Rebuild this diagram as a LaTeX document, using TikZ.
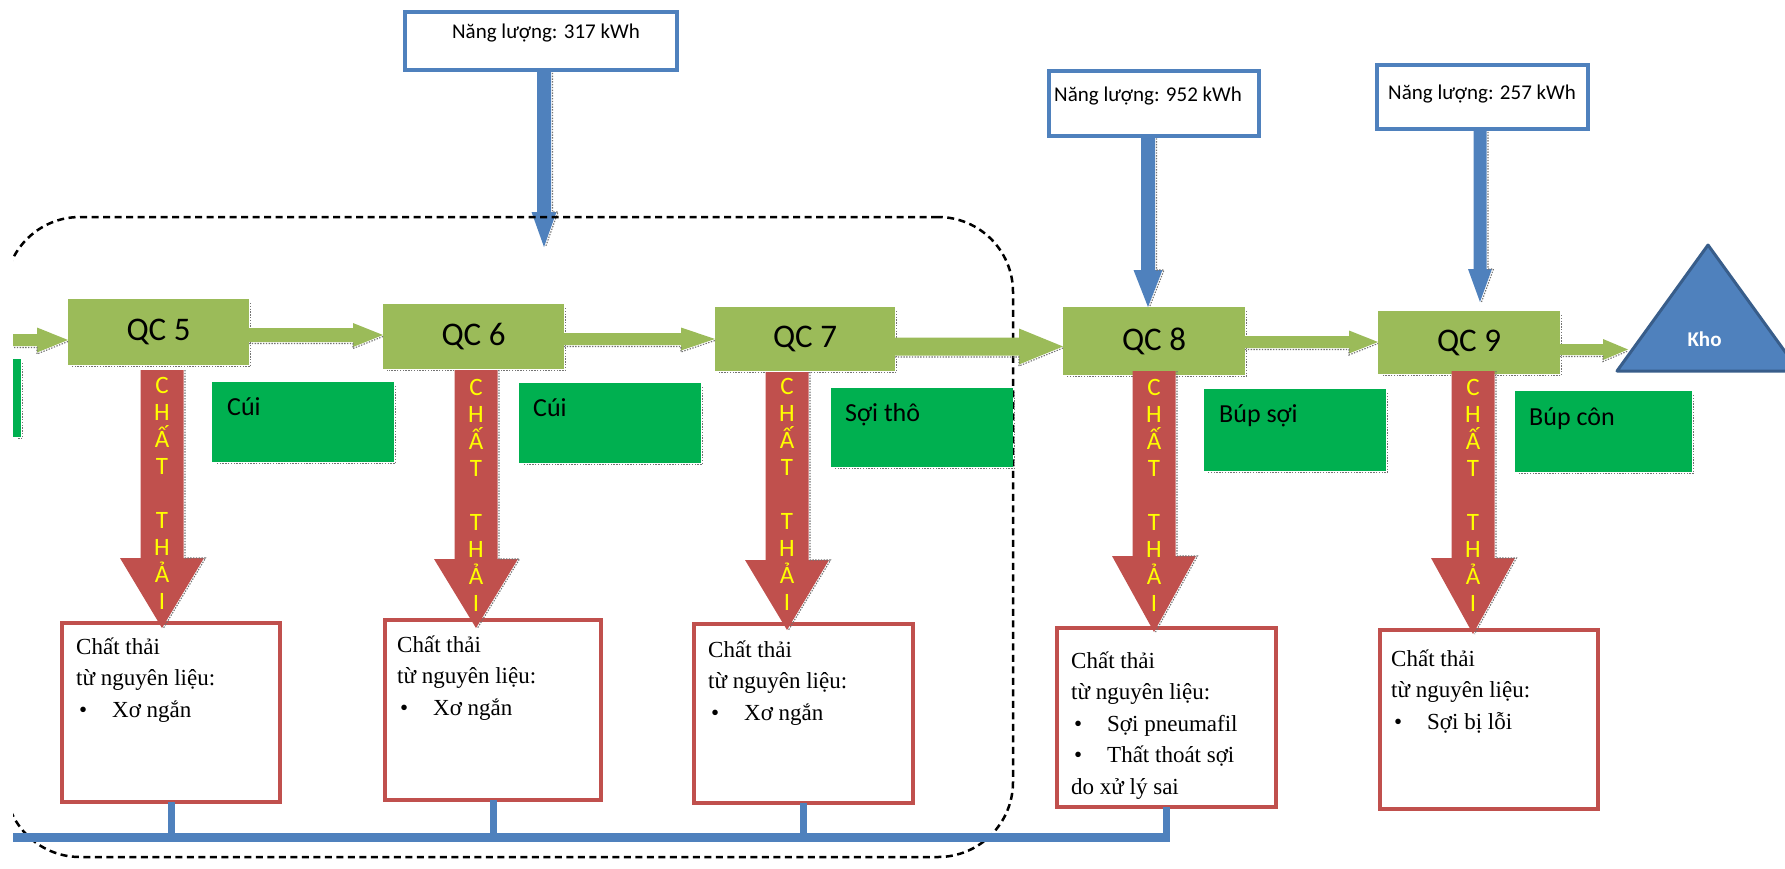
\documentclass[tikz,border=0pt]{standalone}
\usepackage{fontspec}
\setmainfont{Carlito}
\newfontfamily\tnr{Liberation Serif}
\usetikzlibrary{calc}
\definecolor{qcgreen}{HTML}{9BBB59}
\definecolor{pgreen}{HTML}{00B050}
\definecolor{wred}{HTML}{C0504D}
\definecolor{eblue}{HTML}{4F81BD}
\definecolor{dblue}{HTML}{385D8A}
\definecolor{tyellow}{HTML}{FFFF00}
% horizontal block arrow: style, start, end, shaft half, head half, head length
\newcommand\hblock[6]{%
 \fill[#1] let \p1=(#2), \p2=(#3) in
  (\x1,\y1+#4pt) -- (\x2-#6pt,\y1+#4pt) -- (\x2-#6pt,\y1+#5pt) -- (\x2,\y1) --
  (\x2-#6pt,\y1-#5pt) -- (\x2-#6pt,\y1-#4pt) -- (\x1,\y1-#4pt) -- cycle;
 \draw[shd] let \p1=(#2), \p2=(#3) in
  (\x1,\y1-#4pt-1.5pt) -- (\x2-#6pt,\y1-#4pt-1.5pt) -- (\x2-#6pt,\y1-#5pt-1.5pt) -- (\x2,\y1-1.5pt);}
% vertical block arrow: style, start, end, shaft half, head half, head length
\newcommand\vblock[6]{%
 \fill[#1] let \p1=(#2), \p2=(#3) in
  (\x1-#4pt,\y1) -- (\x1-#4pt,\y2+#6pt) -- (\x1-#5pt,\y2+#6pt) -- (\x1,\y2) --
  (\x1+#5pt,\y2+#6pt) -- (\x1+#4pt,\y2+#6pt) -- (\x1+#4pt,\y1) -- cycle;
 \draw[shd] let \p1=(#2), \p2=(#3) in
  (\x1+#4pt+1.5pt,\y1) -- (\x1+#4pt+1.5pt,\y2+#6pt) -- (\x1+#5pt+1.5pt,\y2+#6pt) -- (\x1+1.5pt,\y2);}
\newcommand\boxshadow[1]{\draw[shd] ([xshift=1.5pt,yshift=-4pt]#1.north east) -- ([xshift=1.5pt,yshift=-1.5pt]#1.south east) -- ([xshift=4pt,yshift=-1.5pt]#1.south west);}
\newcommand\wl[1]{\makebox[36pt][l]{\hspace{3pt}•}#1}
\newcommand\wpar[1]{\parbox[t]{205pt}{\raggedright\tnr\fontsize{23}{31.5}\selectfont #1}}
\newcommand\chatthai{\parbox[t]{40pt}{\centering\fontsize{25}{27}\selectfont C\\H\\Ấ\\T\\\mbox{}\\T\\H\\Ả\\I}}
\begin{document}
\begin{tikzpicture}[x=1pt,y=-1pt,
 shd/.style={draw=black!55, line width=1.1pt, dash pattern=on 1.4pt off 1.4pt},
 box/.style={rectangle, inner sep=0pt, outer sep=0pt},
 qcbox/.style={box, fill=qcgreen, font=\fontsize{33}{33}\selectfont},
 prod/.style={box, fill=pgreen},
 prodtext/.style={anchor=base west, inner sep=0pt, font=\fontsize{26}{26}\selectfont},
 waste/.style={box, draw=wred, line width=3.5pt, fill=white},
 wastetext/.style={anchor=base west, inner sep=0pt},
 energy/.style={box, draw=eblue, line width=3.3pt, fill=white},
 energytext/.style={inner sep=0pt, font=\fontsize{21}{21}\selectfont},
 chat/.style={anchor=base, inner sep=0pt, text=tyellow},
 bus/.style={draw=eblue, line width=9.5pt},
 stub/.style={draw=eblue, line width=7pt},
 grpbox/.style={box, draw=black, line width=2.5pt, dash pattern=on 7pt off 4.5pt, rounded corners=75pt},
]
\useasboundingbox (0,0) rectangle (1785,868);
\begin{scope}
\clip (13,-2) rectangle (1787,870);

% energy box 1 and its arrow
\coordinate (e1c) at (541,41);
\coordinate (a1end) at (543,247);
\vblock{eblue}{$(e1c)+(3,29)$}{a1end}{7}{12.5}{35}
\node[energy, minimum width=272pt, minimum height=58pt] (e1) at (e1c) {};
\node[energytext, anchor=base] (e1t) at (546,38) {Năng lượng: 317 kWh};

% dashed group
\node[grpbox, minimum width=1008pt, minimum height=640pt] (grp) at (509,537) {};

% QC boxes
\node[qcbox, minimum width=181pt, minimum height=66pt] (qc5) at (158.5,332) {QC 5};
\node[qcbox, minimum width=181pt, minimum height=65pt] (qc6) at (473.5,336.5) {QC 6};
\node[qcbox, minimum width=180pt, minimum height=64pt] (qc7) at (805,339) {QC 7};
\node[qcbox, minimum width=182pt, minimum height=68pt] (qc8) at (1154,341) {QC 8};
\node[qcbox, minimum width=182pt, minimum height=63pt] (qc9) at (1469,342.5) {QC 9};
\boxshadow{qc5}\boxshadow{qc6}\boxshadow{qc7}\boxshadow{qc8}\boxshadow{qc9}

% energy boxes 2, 3 with arrows
\coordinate (e2c) at (1154,103.5);
\coordinate (e3c) at (1482.5,97);
\coordinate (a3end) at (1480,302);
\vblock{eblue}{$(e2c)+(-6,32)$}{qc8.north}{7}{14.5}{37}
\vblock{eblue}{$(e3c)+(-2.5,32)$}{a3end}{6.5}{12}{33}
\node[energy, minimum width=210pt, minimum height=65pt] (e2) at (e2c) {};
\node[energy, minimum width=211pt, minimum height=64pt] (e3) at (e3c) {};
\node[energytext, anchor=base west] (e2t) at (1054,101) {Năng lượng: 952 kWh};
\node[energytext, anchor=base west] (e3t) at (1388,99) {Năng lượng: 257 kWh};

% green flow arrows
\coordinate (in0) at (0,340);
\coordinate (khoin) at (1628,349.5);
\hblock{qcgreen}{in0}{qc5.west}{6}{12.5}{31}
\hblock{qcgreen}{$(qc5.east)+(0,3)$}{qc6.west}{7}{12}{30}
\hblock{qcgreen}{$(qc6.east)+(0,2.5)$}{qc7.west}{6}{11.5}{34}
\hblock{qcgreen}{$(qc7.east)+(0,7.5)$}{qc8.west}{9}{18}{44}
\hblock{qcgreen}{$(qc8.east)+(0,1)$}{qc9.west}{6}{11.5}{29}
\hblock{qcgreen}{$(qc9.east)+(0,7)$}{khoin}{5.5}{10.5}{25}

% product boxes
\node[prod, minimum width=8pt, minimum height=78pt] (p4) at (17,398) {};
\node[prod, minimum width=182pt, minimum height=80pt] (p5) at (303,422) {};
\node[prod, minimum width=182pt, minimum height=80pt] (p6) at (610,423) {};
\node[prod, minimum width=182pt, minimum height=79pt] (p7) at (922,427.5) {};
\node[prod, minimum width=182pt, minimum height=82pt] (p8) at (1295,430) {};
\node[prod, minimum width=177pt, minimum height=81pt] (p9) at (1603.5,431.5) {};
\boxshadow{p4}\boxshadow{p5}\boxshadow{p6}\boxshadow{p7}\boxshadow{p8}\boxshadow{p9}
\node[prodtext] (p5t) at ($(p5.north west)+(15,33)$) {Cúi};
\node[prodtext] (p6t) at ($(p6.north west)+(14,33)$) {Cúi};
\node[prodtext] (p7t) at ($(p7.north west)+(14,33)$) {Sợi thô};
\node[prodtext] (p8t) at ($(p8.north west)+(15,33)$) {Búp sợi};
\node[prodtext] (p9t) at ($(p9.north west)+(14,34)$) {Búp côn};

% waste boxes
\node[waste, minimum width=218pt, minimum height=179pt] (w5) at (171,712.5) {};
\node[waste, minimum width=216pt, minimum height=180pt] (w6) at (493,710) {};
\node[waste, minimum width=219pt, minimum height=179pt] (w7) at (803.5,713.5) {};
\node[waste, minimum width=219pt, minimum height=179pt] (w8) at (1166.5,717.5) {};
\node[waste, minimum width=218pt, minimum height=179pt] (w9) at (1489,719.5) {};
\node[wastetext] (w5t) at (76,654) {\wpar{Chất thải\\từ nguyên liệu:\\\wl{Xơ ngắn}}};
\node[wastetext] (w6t) at (397,652) {\wpar{Chất thải\\từ nguyên liệu:\\\wl{Xơ ngắn}}};
\node[wastetext] (w7t) at (708,657) {\wpar{Chất thải\\từ nguyên liệu:\\\wl{Xơ ngắn}}};
\node[wastetext] (w8t) at (1071,668) {\wpar{Chất thải\\từ nguyên liệu:\\\wl{Sợi pneumafil}\\\wl{Thất thoát sợi}\\do xử lý sai}};
\node[wastetext] (w9t) at (1391,666) {\wpar{Chất thải\\từ nguyên liệu:\\\wl{Sợi bị lỗi}}};

% waste arrows
\coordinate (r5s) at (162,370);  \coordinate (r5e) at (162,628);
\coordinate (r6s) at (476,370);  \coordinate (r6e) at (476,628);
\coordinate (r7s) at (787,372);  \coordinate (r7e) at (787,630);
\coordinate (r8s) at (1154,371); \coordinate (r8e) at (1154,632);
\coordinate (r9s) at (1473,371); \coordinate (r9e) at (1473,634);
\vblock{wred}{r5s}{r5e}{21.5}{42}{70}
\vblock{wred}{r6s}{r6e}{21.5}{42}{69}
\vblock{wred}{r7s}{r7e}{21.5}{42}{70}
\vblock{wred}{r8s}{r8e}{21.5}{42}{76}
\vblock{wred}{r9s}{r9e}{21.5}{42}{76}
\node[chat] (c5) at (162,393) {\chatthai};
\node[chat] (c6) at (476,395) {\chatthai};
\node[chat] (c7) at (787,394) {\chatthai};
\node[chat] (c8) at (1154,395) {\chatthai};
\node[chat] (c9) at (1473,395) {\chatthai};

% bottom bus
\coordinate (busL) at (0,837.5);
\draw[bus] (busL) -- ($(busL -| w8.south)+(3.5,0)$);
\draw[stub] (w5.south) -- (w5.south |- busL);
\draw[stub] (w6.south) -- (w6.south |- busL);
\draw[stub] (w7.south) -- (w7.south |- busL);
\draw[stub] (w8.south) -- ($(w8.south |- busL)+(0,4.75)$);

% Kho
\coordinate (khoL) at (1617,371);
\coordinate (khoT) at (1708,245);
\coordinate (khoR) at (1799,371);
\filldraw[fill=eblue, draw=dblue, line width=3pt, line join=round] (khoL) -- (khoT) -- (khoR) -- cycle;
\node[inner sep=0pt, text=white, font=\bfseries\fontsize{21}{21}\selectfont] (kho) at (1704.5,339) {Kho};
\end{scope}
\end{tikzpicture}
\end{document}
